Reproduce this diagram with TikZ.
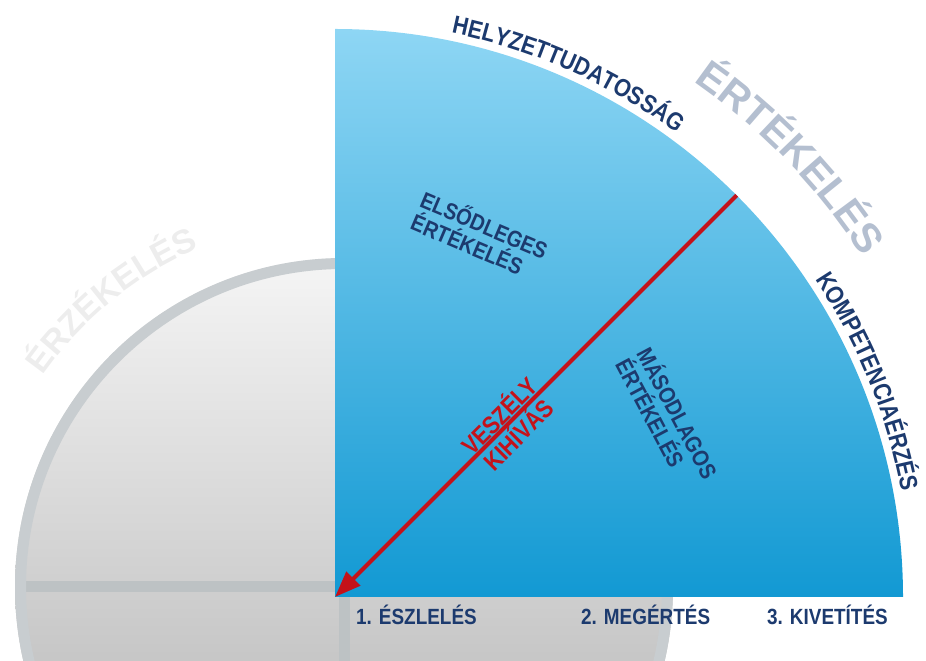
\documentclass[tikz,border=0pt]{standalone}
\usepackage{fontspec}
\setmainfont{Liberation Sans}
\newfontfamily\narrowfont[FakeStretch=0.86]{Liberation Sans}
\usetikzlibrary{arrows.meta, calc, decorations.text}

\definecolor{navy}{HTML}{1C3A6E}
\definecolor{redline}{HTML}{C4121A}
\definecolor{bluetop}{HTML}{8ED6F4}
\definecolor{bluebot}{HTML}{1299D3}
\definecolor{ringgray}{HTML}{C8CDD0}
\definecolor{crossgray}{HTML}{BDC2C4}
\definecolor{disctop}{HTML}{F5F5F5}
\definecolor{discbot}{HTML}{A9A9A9}
\definecolor{bigtxt}{HTML}{B4BFD0}
\definecolor{faint}{HTML}{EDEDED}

\tikzset{
  steplbl/.style={font=\narrowfont\bfseries\fontsize{22}{26}\selectfont, text=navy, anchor=base west, inner sep=0pt},
  areatxt/.style={font=\narrowfont\bfseries\fontsize{23}{24}\selectfont, text=navy, align=left},
  redtxt/.style={font=\narrowfont\bfseries\fontsize{25}{25}\selectfont, text=redline, sloped, inner sep=2pt},
  arctxt/.style={decorate, decoration={text along path, text align=center}},
}

\begin{document}
\begin{tikzpicture}[x=1pt,y=1pt]
  \path[use as bounding box, clip] (0,0) rectangle (926,661);
  \coordinate (O) at (335,64);   % centre of the quarter
  \coordinate (G) at (344,74);   % centre of the grey disc
  % grey disc behind
  \shade[top color=disctop, bottom color=discbot] (G) circle[radius=329pt];
  \begin{scope}
    \clip (G) circle[radius=329pt];
    \draw[crossgray, line width=11pt] ($(G)+(-340,0)$) -- ($(G)+(340,0)$);
    \draw[crossgray, line width=11pt] ($(G)+(0,-340)$) -- ($(G)+(0,340)$);
  \end{scope}
  \draw[ringgray, line width=11pt] (G) circle[radius=323.5pt];
  \path[arctxt, decoration={text color=faint, text={|\bfseries\fontsize{34}{34}\selectfont|ÉRZÉKELÉS}}]
    ($(G)+(166:368pt)$) arc[start angle=166, end angle=92, radius=368pt];
  % blue quarter
  \shade[top color=bluetop, bottom color=bluebot]
    (O) -- ($(O)+(0,568)$) arc[start angle=90, end angle=0, radius=568pt] -- cycle;
  \coordinate (rim) at ($(O)+(45:568pt)$);
  \draw[redline, line width=4pt, -{Triangle[length=26pt,width=19pt]}] (rim) -- (O);
  \path (O) -- (rim)
    node[redtxt, pos=0.43, above] (threat) {VESZÉLY}
    node[redtxt, pos=0.43, below] (challenge) {KIHÍVÁS};
  % texts round the rim
  \path[arctxt, decoration={text color=navy, text={|\narrowfont\bfseries\fontsize{25}{25}\selectfont|HELYZETTUDATOSSÁG}}]
    ($(O)+(100:576pt)$) arc[start angle=100, end angle=32, radius=576pt];
  \path[arctxt, decoration={text color=navy, text={|\narrowfont\bfseries\fontsize{25}{25}\selectfont|KOMPETENCIAÉRZÉS}}]
    ($(O)+(56:576pt)$) arc[start angle=56, end angle=-12, radius=576pt];
  \path[arctxt, decoration={text color=bigtxt, text={|\bfseries\fontsize{41}{41}\selectfont|ÉRTÉKELÉS}}]
    ($(O)+(79:628pt)$) arc[start angle=79, end angle=9, radius=628pt];
  % inside the quarter
  \node[areatxt, rotate=-23] (primary) at (480,426) {ELSŐDLEGES\\ÉRTÉKELÉS};
  \node[areatxt, rotate=-62] (secondary) at (668,243) {MÁSODLAGOS\\ÉRTÉKELÉS};
  % steps
  \node[steplbl] (step1) at (356,36) {1. ÉSZLELÉS};
  \node[steplbl] (step2) at (581,36) {2. MEGÉRTÉS};
  \node[steplbl] (step3) at (767,36) {3. KIVETÍTÉS};
\end{tikzpicture}
\end{document}
